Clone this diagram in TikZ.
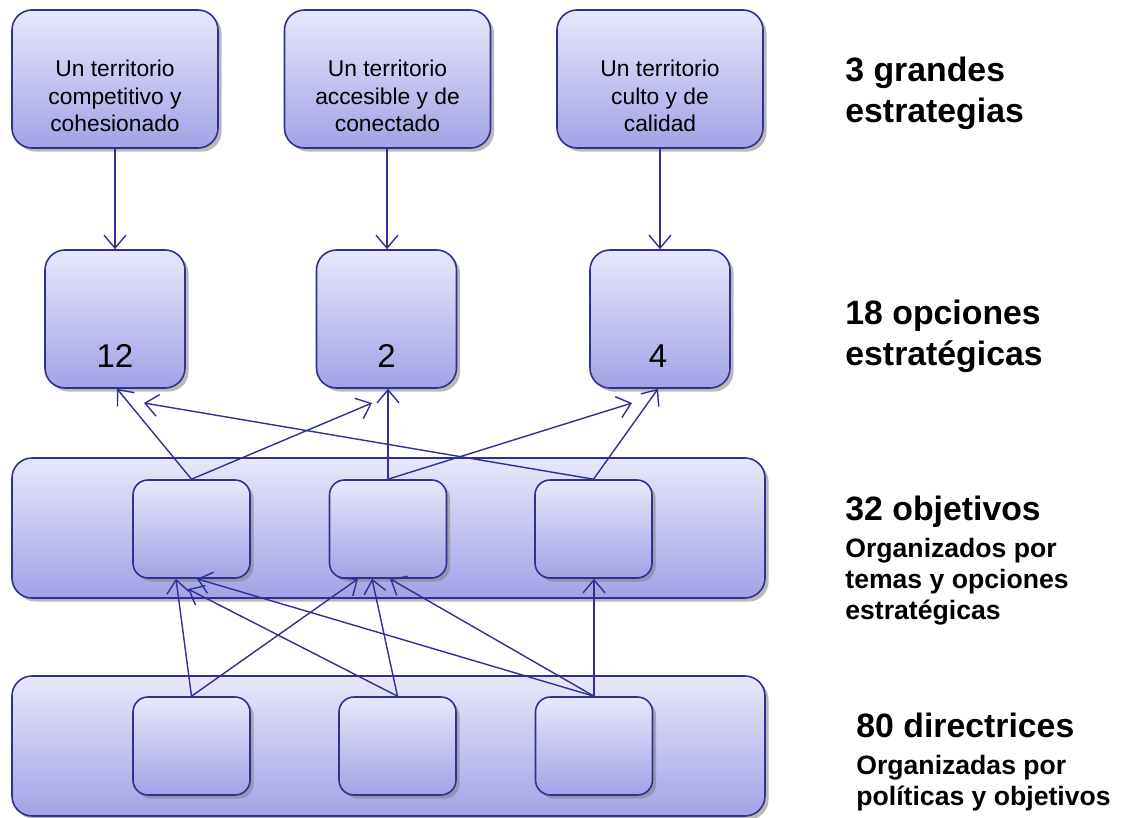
\documentclass[tikz,border=0pt]{standalone}
\usepackage{fontspec}
\setmainfont{Liberation Sans}
\usetikzlibrary{arrows.meta}
\usetikzlibrary{shadows}

\definecolor{azul}{RGB}{46,49,146}
\definecolor{lilaclaro}{RGB}{232,232,250}
\definecolor{lilaoscuro}{RGB}{162,162,230}

\begin{document}
\begin{tikzpicture}[x=0.5pt,y=-0.5pt,
    caja/.style={draw=azul,line width=0.8pt,rounded corners=10pt,top color=lilaclaro,bottom color=lilaoscuro,
      drop shadow={shadow xshift=1.8pt,shadow yshift=-1.8pt,fill=black!50,opacity=0.55},inner sep=0pt},
    estrategia/.style={caja,minimum width=103pt,minimum height=69pt},
    opcion/.style={caja,minimum width=70pt,minimum height=69pt},
    banda/.style={caja,minimum width=376.5pt,minimum height=70pt},
    celda/.style={caja,rounded corners=7.5pt,minimum width=58.5pt,minimum height=49pt},
    flecha/.style={draw=azul,line width=0.7pt,-{Straight Barb[length=6.5pt,width=11pt]}},
    texto/.style={align=center,inner sep=0pt,font=\fontsize{11.4}{13.75}\selectfont},
    numero/.style={inner sep=0pt,font=\fontsize{16.5}{20}\selectfont},
    titulo/.style={align=left,inner sep=0pt,anchor=base west,font=\bfseries\fontsize{16.9}{20.5}\selectfont},
    subtitulo/.style={align=left,inner sep=0pt,anchor=base west,font=\bfseries\fontsize{13.3}{15.5}\selectfont}]
  \useasboundingbox (0,0) rectangle (1123,818);

  \node[estrategia] (e1) at (115,79) {};
  \node[estrategia] (e2) at (387.5,79) {};
  \node[estrategia] (e3) at (660,79) {};
  \node[texto,anchor=base] (t1) at (115,132) {Un territorio\\competitivo y\\cohesionado};
  \node[texto,anchor=base] (t2) at (387.5,132) {Un territorio\\accesible y de\\conectado};
  \node[texto,anchor=base] (t3) at (660,132) {Un territorio\\culto y de\\calidad};

  \node[opcion] (o1) at (115,319) {};
  \node[opcion] (o2) at (386.5,319) {};
  \node[opcion] (o3) at (660,319) {};
  \node[numero,anchor=base] (n1) at (115,367) {12};
  \node[numero,anchor=base] (n2) at (386.5,367) {2};
  \node[numero,anchor=base] (n3) at (658,367) {4};

  \node[banda] (b1) at (388.5,528) {};
  \node[celda] (c1) at (191.5,529) {};
  \node[celda] (c2) at (388,529) {};
  \node[celda] (c3) at (593.5,529) {};

  \node[banda] (b2) at (388.5,746) {};
  \node[celda] (d1) at (191.5,746) {};
  \node[celda] (d2) at (397.5,746) {};
  \node[celda] (d3) at (594,746) {};

  \draw[flecha] (e1.south) -- (o1.north);
  \draw[flecha] ([xshift=-0.25pt]e2.south) -- ([xshift=-0.25pt]e2.south |- o2.north);
  \draw[flecha] (e3.south) -- (e3.south |- o3.north);

  \coordinate (p1) at (372,403);
  \coordinate (p2) at (632,403);
  \coordinate (p3) at (144,403);
  \draw[flecha] (c1.north) -- ([xshift=1pt]o1.south);
  \draw[flecha] (c1.north) -- (p1);
  \draw[flecha] (c2.north) -- (c2.north |- o2.south);
  \draw[flecha] (c2.north) -- (p2);
  \draw[flecha] (c3.north) -- (p3);
  \draw[flecha] (c3.north) -- ([xshift=-1pt]o3.south);

  \coordinate (q1) at (188,589);
  \draw[flecha] (d1.north) -- ([xshift=-7.75pt]c1.south);
  \draw[flecha] (d1.north) -- ([xshift=-15pt]c2.south);
  \draw[flecha] (d2.north) -- (q1);
  \draw[flecha] (d2.north) -- ([xshift=-8pt]c2.south);
  \draw[flecha] (d3.north) -- ([xshift=2.75pt]c1.south);
  \draw[flecha] (d3.north) -- ([xshift=1pt]c2.south);
  \draw[flecha] (d3.north) -- (d3.north |- c3.south);

  \node[titulo] (l1) at (845,123) {3 grandes\\estrategias};
  \node[titulo] (l2) at (845,365) {18 opciones\\estratégicas};
  \node[titulo] (l3) at (845,520) {32 objetivos};
  \node[subtitulo] (l3b) at (845,619) {Organizados por\\temas y opciones\\estratégicas};
  \node[titulo] (l4) at (856,737) {80 directrices};
  \node[subtitulo] (l4b) at (856,805) {Organizadas por\\políticas y objetivos};
\end{tikzpicture}
\end{document}
